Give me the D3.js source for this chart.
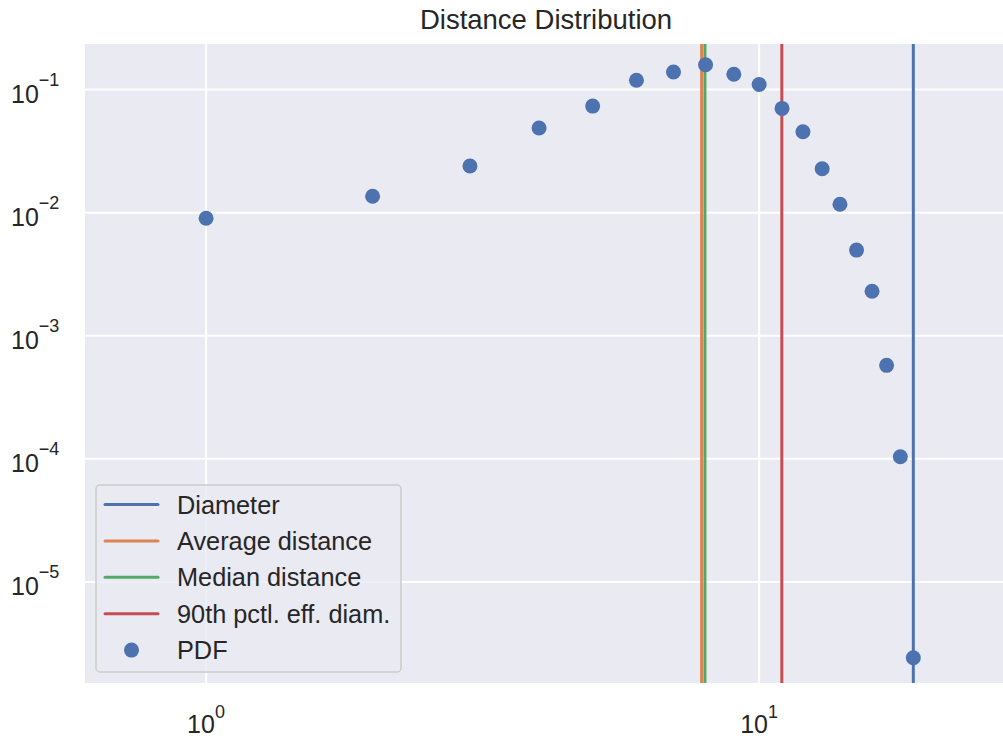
<!DOCTYPE html>
<html>
<head>
  <meta charset="UTF-8" />
  <title>Distance Distribution</title>
  <script src="https://cdn.jsdelivr.net/npm/d3@7"></script>
  <style>
    body { margin: 0; background: #fff; }
    text { font-family: "Liberation Sans", Arial, sans-serif; fill: #262626; }
  </style>
</head>
<body>
  <svg width="1003" height="742"></svg>
  <script>
    // data
    var distances = [1, 2, 3, 4, 5, 6, 7, 8, 9, 10, 11, 12, 13, 14, 15, 16, 17, 18, 19];
    var pdf = [0.0090, 0.0136, 0.0239, 0.0487, 0.0734, 0.119, 0.139, 0.159, 0.133, 0.110,
      0.0703, 0.0454, 0.0227, 0.0117, 0.00496, 0.0023, 0.000575, 0.000104, 0.00000242];
    var lineNames = ["Diameter", "Average distance", "Median distance", "90th pctl. eff. diam."];
    var lineValues = [19, 7.87, 7.98, 10.99];
    var lineColors = ["#4c72b0", "#dd8452", "#55a868", "#c44e52"];
    var xTicks = [1, 10];
    var yTicks = [1e-5, 1e-4, 1e-3, 1e-2, 1e-1];

    var svg = d3.select("svg");
    var marge = { top: 44, left: 85, right: 0, bottom: 59 };
    var width = 1003, height = 742;

    var x = d3.scaleLog().domain([0.604, 27.6]).range([marge.left, width - marge.right]);
    var y = d3.scaleLog().domain([1.51e-6, 0.2344]).range([height - marge.bottom, marge.top]);

    // background
    svg.append("rect")
      .attr("x", marge.left).attr("y", marge.top)
      .attr("width", width - marge.right - marge.left)
      .attr("height", height - marge.bottom - marge.top)
      .attr("fill", "#eaeaf2");

    // grid
    var grid = svg.append("g");
    grid.selectAll(".gx").data(xTicks).enter().append("line")
      .attr("x1", d => x(d)).attr("x2", d => x(d))
      .attr("y1", marge.top).attr("y2", height - marge.bottom)
      .attr("stroke", "#fff").attr("stroke-width", 2);
    grid.selectAll(".gy").data(yTicks).enter().append("line")
      .attr("y1", d => y(d)).attr("y2", d => y(d))
      .attr("x1", marge.left).attr("x2", width - marge.right)
      .attr("stroke", "#fff").attr("stroke-width", 2);

    // tick labels
    function exp(d) { return Math.round(Math.log10(d)); }
    var xl = svg.append("g").selectAll("text").data(xTicks).enter().append("text")
      .attr("x", d => x(d) - 19).attr("y", 733)
      .attr("font-size", 25);
    xl.append("tspan").text("10");
    xl.append("tspan").attr("font-size", 18).attr("dy", -15).text(d => String(exp(d)).replace("-", "\u2212"));

    var yl = svg.append("g").selectAll("text").data(yTicks).enter().append("text")
      .attr("x", 11).attr("y", d => y(d) + 13.5)
      .attr("font-size", 25);
    yl.append("tspan").text("10");
    yl.append("tspan").attr("font-size", 18).attr("dy", -17).text(d => String(exp(d)).replace("-", "\u2212"));

    // vertical lines
    svg.append("g").selectAll("line").data(lineValues).enter().append("line")
      .attr("x1", d => x(d)).attr("x2", d => x(d))
      .attr("y1", marge.top).attr("y2", height - marge.bottom)
      .attr("stroke", (d, i) => lineColors[i]).attr("stroke-width", 3);

    // scatter
    svg.append("g").selectAll("circle").data(distances).enter().append("circle")
      .attr("cx", d => x(d)).attr("cy", (d, i) => y(pdf[i]))
      .attr("r", 7.5).attr("fill", "#4c72b0");

    // title
    svg.append("text").attr("x", 546).attr("y", 29)
      .attr("text-anchor", "middle").attr("font-size", 27.5)
      .text("Distance Distribution");

    // legend
    var leg = svg.append("g").attr("transform", "translate(96,485)");
    leg.append("rect").attr("width", 305).attr("height", 187).attr("rx", 4)
      .attr("fill", "#eaeaf2").attr("fill-opacity", 0.8)
      .attr("stroke", "#cccccc").attr("stroke-width", 1.5);
    var rows = lineNames.concat(["PDF"]);
    var item = leg.selectAll(".item").data(rows).enter().append("g")
      .attr("transform", (d, i) => "translate(0," + (19.5 + i * 36.4) + ")");
    item.filter((d, i) => i < 4).append("line")
      .attr("x1", 9).attr("x2", 62).attr("y1", 0).attr("y2", 0)
      .attr("stroke", (d, i) => lineColors[i]).attr("stroke-width", 3)
      .attr("stroke-linecap", "round");
    item.filter((d, i) => i === 4).append("circle")
      .attr("cx", 35.5).attr("cy", 0).attr("r", 7.5).attr("fill", "#4c72b0");
    item.append("text").attr("x", 81).attr("y", 9).attr("font-size", 25.3)
      .text(d => d);
  </script>
</body>
</html>
